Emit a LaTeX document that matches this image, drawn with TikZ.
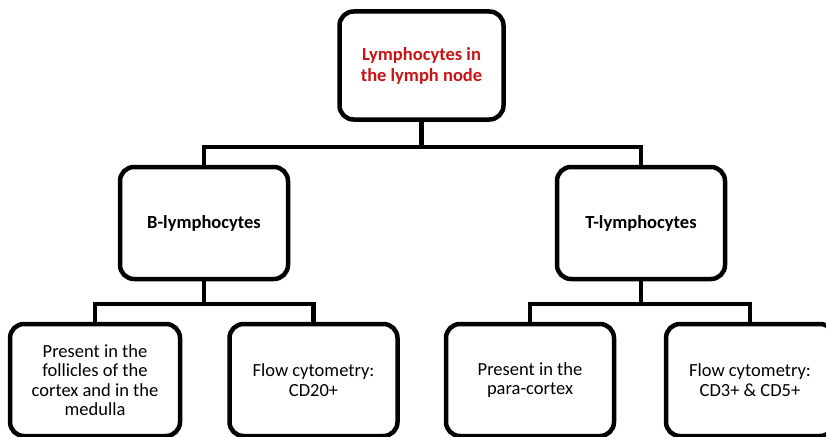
\documentclass[tikz,border=0pt]{standalone}
\usepackage{fontspec}
\setmainfont{Carlito}
\definecolor{titlered}{RGB}{200,20,20}
\tikzset{
  box/.style={draw,line width=4.5pt,rounded corners=14pt,fill=white,align=center,
    inner sep=0pt,minimum width=168pt,minimum height=112pt,
    font=\fontsize{18.5}{19.5}\selectfont},
  link/.style={line width=4.5pt},
}
\begin{document}
\begin{tikzpicture}[x=1pt,y=-1pt,line join=miter]
  \clip (0,0) rectangle (826,436);
  \node[box,minimum width=164pt,minimum height=108pt,text=titlered,font=\fontsize{18.5}{21}\selectfont\bfseries] (lymph) at (421.5,65.5) {Lymphocytes in\\the lymph node};
  \node[box,font=\fontsize{18.5}{19.5}\selectfont\bfseries] (blym) at (204,223) {B-lymphocytes};
  \node[box,font=\fontsize{18.5}{19.5}\selectfont\bfseries] (tlym) at (641,223) {T-lymphocytes};
  \node[box,minimum width=170pt] (bfol) at (95,380) {Present in the\\follicles of the\\cortex and in the\\medulla};
  \node[box] (bflow) at (313.5,380) {Flow cytometry:\\CD20+};
  \node[box] (tpara) at (530,380) {Present in the\\para-cortex};
  \node[box] (tflow) at (750,380) {Flow cytometry:\\CD3+ \& CD5+};
  \coordinate (split) at (421.5,147);
  \coordinate (bsplit) at (204,304);
  \coordinate (tsplit) at (641,304);
  \draw[link] (lymph.south) -- (split);
  \draw[link] (blym.north) |- (split) -| (tlym.north);
  \draw[link] (blym.south) -- (bsplit);
  \draw[link] (bfol.north) |- (bsplit) -| (bflow.north);
  \draw[link] (tlym.south) -- (tsplit);
  \draw[link] (tpara.north) |- (tsplit) -| (tflow.north);
\end{tikzpicture}
\end{document}
